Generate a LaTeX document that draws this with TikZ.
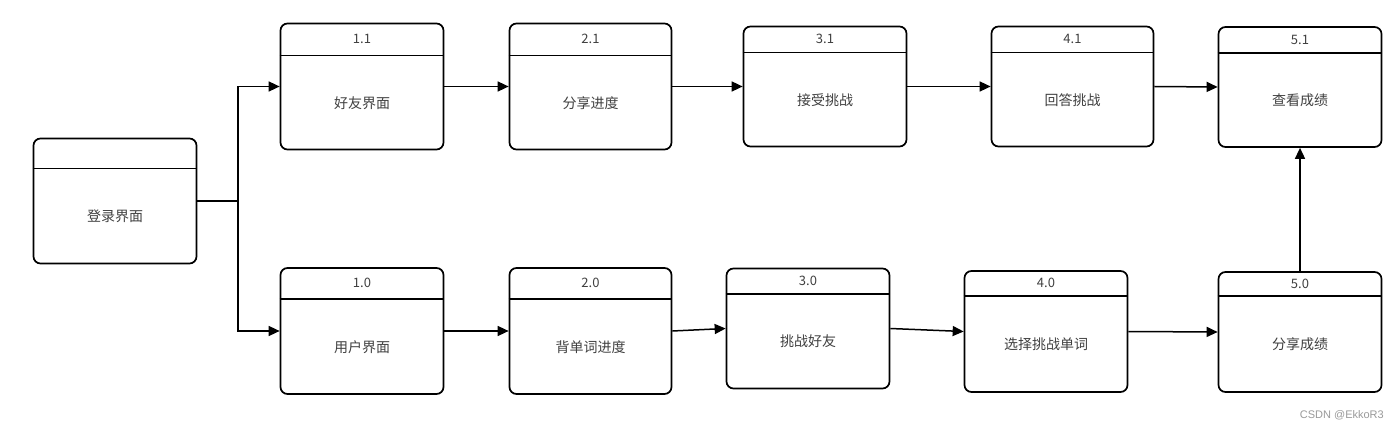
\documentclass[tikz,border=0pt]{standalone}
\usepackage{fontspec}
\setmainfont{Noto Sans CJK SC}
\newfontfamily\wmfont{Liberation Sans}
\usetikzlibrary{arrows.meta}
\definecolor{txt}{HTML}{404040}
\definecolor{wmgray}{HTML}{9A9A9A}
\tikzset{
  procbox/.style={draw=black, line width=1.7pt, rounded corners=7pt, inner sep=0pt, fill=white},
  hdrline/.style={draw=black, line width=1.7pt},
  numtext/.style={text=txt, font=\fontsize{13}{15}\selectfont},
  maintext/.style={text=txt, font=\fontsize{14}{16}\selectfont},
  flow/.style={draw=black, line width=1.5pt, -{Triangle[length=11pt,width=10pt]}},
  plainline/.style={draw=black, line width=1.5pt},
}
% name, cx, cy, w, h, header height, number, label
\newcommand\pbox[8]{%
  \node[procbox, minimum width=#4pt, minimum height=#5pt] (#1) at (#2,#3) {};
  \draw[hdrline] ([yshift=-#6pt]#1.north west) -- ([yshift=-#6pt]#1.north east);
  \node[numtext] (#1num) at ([yshift=-#6pt/2]#1.north) {#7};
  \path (#1.south) -- ([yshift=-#6pt]#1.north) node[midway, maintext] (#1lbl) {#8};
}
\begin{document}
\begin{tikzpicture}[x=1pt,y=-1pt]
\useasboundingbox[fill=white] (0,0) rectangle (1399,430);

\pbox{login}{115}{201}{163}{125}{31}{}{登录界面}
\pbox{n11}{362}{86.5}{163}{126}{33}{1.1}{好友界面}
\pbox{n21}{590.5}{86.5}{162}{126}{33}{2.1}{分享进度}
\pbox{n31}{825}{86.5}{163}{120}{27}{3.1}{接受挑战}
\pbox{n41}{1072.5}{86.5}{162}{120}{27}{4.1}{回答挑战}
\pbox{n51}{1300}{87}{163}{120}{27}{5.1}{查看成绩}

\pbox{n10}{362}{331}{163}{126}{32}{1.0}{用户界面}
\pbox{n20}{590.5}{331}{162}{126}{32}{2.0}{背单词进度}
\pbox{n30}{808}{328.5}{163}{120}{26}{3.0}{挑战好友}
\pbox{n40}{1046}{331.5}{163}{121}{26}{4.0}{选择挑战单词}
\pbox{n50}{1300}{332}{163}{120}{25}{5.0}{分享成绩}

\coordinate (split) at (238,201);
\draw[plainline] (login.east) -- (split);
\draw[flow] (split) |- (n11.west);
\draw[flow] (split) |- (n10.west);

\draw[flow] (n11.east) -- (n21.west);
\draw[flow] (n21.east) -- (n31.west);
\draw[flow] (n31.east) -- (n41.west);
\draw[flow] (n41.east) -- (n51.west);

\draw[flow] (n10.east) -- (n20.west);
\draw[flow] (n20.east) -- (n30.west);
\draw[flow] (n30.east) -- (n40.west);
\draw[flow] (n40.east) -- (n50.west);

\draw[flow] (n50.north) -- (n51.south);

\node[anchor=east, text=wmgray, font=\wmfont\fontsize{11}{13}\selectfont, inner sep=0pt] (wm) at (1384,415) {CSDN @EkkoR3};
\end{tikzpicture}
\end{document}
